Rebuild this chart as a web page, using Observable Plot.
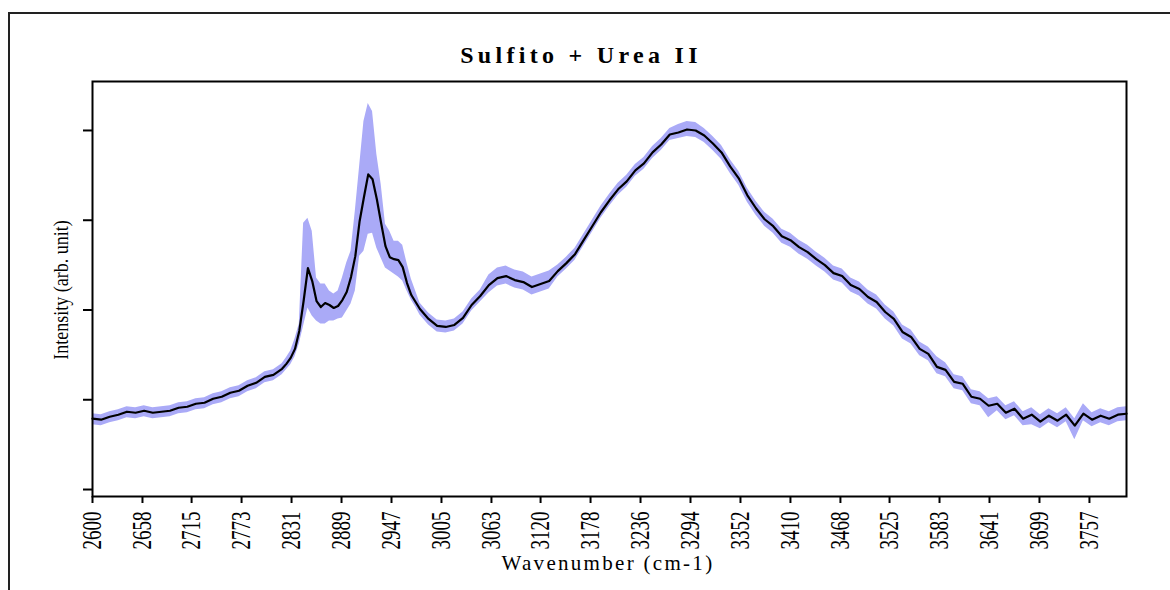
<!DOCTYPE html>
<html><head><meta charset="utf-8">
<script src="https://cdn.jsdelivr.net/npm/d3@7"></script>
<script src="https://cdn.jsdelivr.net/npm/@observablehq/plot@0.6"></script>
<style>
body{margin:0;background:#fff;overflow:hidden}
#wrap{position:relative;width:1170px;height:590px;overflow:hidden}
#frame{position:absolute;left:8px;top:12px;width:1300px;height:700px;border:2px solid #222;box-sizing:border-box}
#chart{position:absolute;left:0;top:0}
</style>
</head><body>
<div id="wrap"><div id="frame"></div><div id="chart"></div></div>
<script>
const titleText = "Sulfito + Urea II";
const xLabel = "Wavenumber (cm-1)";
const yLabel = "Intensity (arb. unit)";
const xTicks = [2600,2658,2715,2773,2831,2889,2947,3005,3063,3120,3178,3236,3294,3352,3410,3468,3525,3583,3641,3699,3757];
const yTicks = [0,900,1800,2700,3600];

const wavenumber = [
2600,2610,2620,2630,2640,2650,2660,2670,2680,2690,2700,2710,2720,2730,2740,2750,2760,2770,2780,2790,2800,2810,
2820,2825,2830,2835,2840,2845,2850,2855,2860,2865,2870,2875,2880,2885,2890,2895,2900,2905,2910,2915,2920,2925,
2930,2935,2940,2945,2950,2955,2960,2965,2970,2975,2980,
2990,3000,3010,3020,3030,3040,3050,3060,3070,3080,3090,3100,3110,3120,3130,3140,3150,3160,3170,3180,3190,
3200,3210,3220,3230,3240,3250,3260,3270,3280,3290,3300,3310,3320,3330,3340,3350,3360,3370,3380,3390,
3400,3410,3420,3430,3440,3450,3460,3470,3480,3490,3500,3510,3520,3530,3540,3550,3560,3570,3580,3590,
3600,3610,3620,3630,3640,3650,3660,3670,3680,3690,3700,3710,3720,3730,3740,3750,3760,3770,3780,3790,3800];

const meanIntensity = [
710,700,730,750,780,770,790,770,780,790,820,830,860,870,910,930,970,990,1040,1070,1130,1150,
1210,1260,1320,1410,1590,1890,2220,2090,1890,1830,1870,1850,1820,1840,1900,1980,2130,2340,2690,2930,3160,3110,
2910,2670,2440,2330,2310,2300,2230,2070,1950,1880,1810,
1710,1640,1630,1650,1720,1850,1940,2050,2120,2140,2100,2080,2030,2060,2090,2190,2270,2360,2500,2640,2780,
2900,3010,3090,3200,3270,3380,3460,3560,3580,3610,3600,3550,3470,3380,3240,3120,2950,2820,2710,2640,
2540,2500,2430,2380,2310,2250,2170,2140,2050,2010,1930,1880,1780,1710,1580,1530,1410,1360,1230,1200,
1080,1060,930,910,840,860,770,810,710,750,680,740,690,750,640,760,700,740,710,750,760];

const lowerIntensity = [
650,640,670,690,720,710,730,710,720,730,760,770,800,810,850,870,910,930,980,1010,1070,1090,
1150,1200,1250,1330,1460,1640,1820,1740,1690,1660,1660,1690,1690,1710,1720,1790,1860,1990,2340,2390,2560,2570,
2420,2320,2220,2190,2160,2130,2090,1990,1900,1830,1750,
1650,1580,1570,1590,1660,1790,1880,1970,2040,2060,2020,2000,1950,1980,2010,2130,2210,2300,2440,2580,2720,
2840,2950,3030,3140,3210,3320,3400,3500,3520,3540,3530,3480,3400,3310,3170,3050,2880,2750,2640,2570,
2470,2430,2360,2310,2240,2180,2100,2070,1980,1940,1860,1810,1710,1640,1510,1460,1340,1290,1160,1130,
1010,990,860,840,720,790,700,740,640,650,610,670,620,680,500,690,630,670,640,680,690];

const upperIntensity = [
760,750,780,800,830,820,840,820,830,840,870,880,910,920,960,980,1020,1040,1090,1120,1180,1200,
1260,1320,1390,1510,1660,2670,2720,2590,2120,2060,2060,1990,1960,1990,2120,2270,2390,2790,3240,3690,3870,3790,
3360,3060,2660,2590,2490,2490,2450,2270,2110,1990,1870,
1770,1700,1690,1710,1780,1910,2000,2150,2220,2240,2200,2180,2130,2160,2190,2250,2330,2420,2560,2700,2840,
2960,3070,3150,3260,3330,3440,3520,3620,3660,3690,3680,3620,3540,3450,3310,3190,3020,2890,2780,2710,
2610,2570,2500,2450,2380,2320,2240,2210,2120,2080,2000,1950,1850,1780,1650,1600,1480,1430,1330,1270,
1150,1130,1000,980,910,930,840,880,780,820,750,810,760,820,710,860,770,810,780,820,830];

const data = wavenumber.map((w, i) => ({w, mean: meanIntensity[i], lo: lowerIntensity[i], hi: upperIntensity[i]}));

const chart = Plot.plot({
  width: 1170, height: 590,
  marginLeft: 92, marginRight: 44, marginTop: 81, marginBottom: 94,
  style: {fontFamily: "'Liberation Serif', 'Times New Roman', serif", background: "transparent", color: "#000"},
  x: {domain: [2600, 3800]},
  y: {domain: [-70, 4091]},
  marks: [
    Plot.areaY(data, {x: "w", y1: "lo", y2: "hi", fill: "#aaaaf7"}),
    Plot.line(data, {x: "w", y: "mean", stroke: "#000", strokeWidth: 2.2}),
    Plot.frame({stroke: "#000", strokeWidth: 2}),
    Plot.axisX(xTicks, {tickSize: 7, tickPadding: 8, tickRotate: -90, fontSize: 19, label: null, strokeWidth: 2, tickFormat: d => String(d)}),
    Plot.axisY(yTicks, {tickSize: 9, tickFormat: () => "", label: null, strokeWidth: 2})
  ]
});
document.getElementById("chart").appendChild(chart);

const svg = d3.select(chart);
svg.selectAll("g").filter(function(){ return (this.getAttribute("aria-label")||"").includes("x-axis tick label"); })
  .selectAll("text").each(function(){
    const t = this.getAttribute("transform") || "";
    this.setAttribute("transform", t + " scale(1,1.4)");
  });

svg.append("text").attr("x", 581).attr("y", 63).attr("text-anchor", "middle")
  .attr("font-size", 24).attr("font-weight", "bold").attr("letter-spacing", "4.3px")
  .attr("font-family", "'Liberation Serif', serif").attr("fill", "#000").text(titleText);
svg.append("text").attr("transform", "translate(68,290) rotate(-90) scale(1,1.2)").attr("text-anchor", "middle")
  .attr("font-size", 18).attr("font-family", "'Liberation Serif', serif").attr("fill", "#000").text(yLabel);
svg.append("text").attr("x", 608).attr("y", 570).attr("text-anchor", "middle")
  .attr("font-size", 21).attr("letter-spacing", "2.3px")
  .attr("font-family", "'Liberation Serif', serif").attr("fill", "#000").text(xLabel);
</script>
</body></html>
